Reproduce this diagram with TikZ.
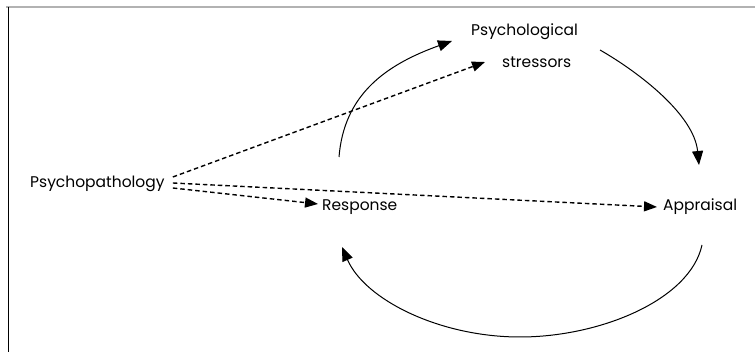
\documentclass[tikz,border=0pt]{standalone}
\usepackage{fontspec}
\setmainfont{Poppins}
\usetikzlibrary{arrows.meta}
\begin{document}
\begin{tikzpicture}[x=1pt,y=-1pt,
  lbl/.style={inner sep=0pt, anchor=west, font=\fontsize{15.5}{18}\selectfont},
  cycle/.style={line width=1pt, -{Triangle[length=14pt,width=11pt]}},
  link/.style={line width=1.4pt, dash pattern=on 4.5pt off 3pt, -{Triangle[length=13pt,width=10pt]}}]
\useasboundingbox (0,0) rectangle (755,352);
% frame
\draw[gray!60, line width=1.2pt] (6,7) -- (755,7);
\draw[line width=1pt] (8,7) -- (8,352);

% labels
\node[lbl] (psy)  at (30,184)  {Psychopathology};
\node[lbl] (resp) at (322,207) {Response};
\node[lbl] (appr) at (663,207) {Appraisal};
\node[lbl] (psl)  at (471,32)  {Psychological};
\node[lbl] (str)  at (502,62)  {stressors};

% influences of psychopathology
\draw[link] ([xshift=8pt,yshift=7pt]psy.east) -- ([xshift=-17pt]str.west);
\draw[link] ([xshift=8pt,yshift=1pt]psy.east) -- ([xshift=-6pt]appr.west);
\draw[link] ([xshift=8pt,yshift=-4pt]psy.east) -- ([xshift=-4pt,yshift=3pt]resp.west);

% the cycle
\coordinate (c1) at (339,157);
\coordinate (c2) at (452,41);
\coordinate (c3) at (600,50);
\coordinate (c4) at (699,165);
\coordinate (c5) at (702,245);
\coordinate (c6) at (520,337);
\coordinate (c7) at (342,247);
\draw[cycle] (c1) .. controls (344,95) and (385,65) .. (c2);
\draw[cycle] (c3) .. controls (640,73) and (694,115) .. (c4);
\draw[cycle] (c5) .. controls (690,300) and (600,337) .. (c6)
  .. controls (440,337) and (365,300) .. (c7);
\end{tikzpicture}
\end{document}
